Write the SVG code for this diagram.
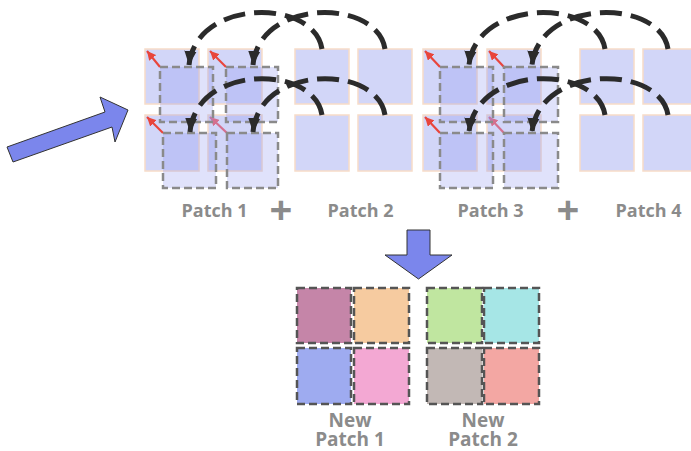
<svg xmlns="http://www.w3.org/2000/svg" width="691" height="451" viewBox="0 0 691 451">
<defs>
<style>
.sq{fill:#d2d6f8;stroke:#f7dcc8;stroke-width:1.5}
.ds{fill:rgba(136,143,240,0.26);stroke:#8a8a8a;stroke-width:2.5;stroke-dasharray:8 4}
.red{stroke:#e8453c;stroke-width:2.2;fill:none;marker-end:url(#rh)}
.pink{stroke:#d4708f;stroke-width:2.2;fill:none;marker-end:url(#ph)}
.arc{stroke:#2b2b2b;stroke-width:5;fill:none;stroke-dasharray:22 9;marker-end:url(#bh)}
.ns{stroke:#555;stroke-width:2.5;stroke-dasharray:8 4}
.lbl{font-family:"Open Sans","Noto Sans",sans-serif;font-weight:700;fill:#8b8b8b;font-size:18px;text-anchor:middle}
.lbl2{font-family:"Open Sans","Noto Sans",sans-serif;font-weight:700;fill:#8b8b8b;font-size:19px;text-anchor:middle}
.plus{font-family:"Open Sans","Noto Sans",sans-serif;font-weight:700;fill:#8b8b8b;font-size:40px;text-anchor:middle}
.big{fill:#7b86ec;stroke:#333;stroke-width:1}
</style>
<marker id="bh" markerUnits="userSpaceOnUse" markerWidth="14" markerHeight="16" viewBox="0 0 16 14" refX="16" refY="7" orient="auto">
<path d="M0,0 L16,7 L0,14 Z" fill="#2b2b2b"/>
</marker>
<marker id="rh" markerUnits="userSpaceOnUse" markerWidth="9" markerHeight="9" viewBox="0 0 10 10" refX="10" refY="5" orient="auto">
<path d="M0,0 L10,5 L0,10 Z" fill="#e8453c"/>
</marker>
<marker id="ph" markerUnits="userSpaceOnUse" markerWidth="9" markerHeight="9" viewBox="0 0 10 10" refX="10" refY="5" orient="auto">
<path d="M0,0 L10,5 L0,10 Z" fill="#d4708f"/>
</marker>
</defs>
<rect width="691" height="451" fill="#ffffff"/>

<polygon id="bigArrow" class="big" points="7,147 105,112 100,97 128,110 115,142 112,127 13,162"/>

<g id="patch1">
<rect class="sq" x="145" y="49" width="54" height="55"/>
<rect class="sq" x="208" y="49" width="54" height="55"/>
<rect class="sq" x="145" y="115" width="54" height="56"/>
<rect class="sq" x="208" y="115" width="54" height="56"/>
</g>
<g id="patch2">
<rect class="sq" x="295" y="49" width="54" height="55"/>
<rect class="sq" x="358" y="49" width="54" height="55"/>
<rect class="sq" x="295" y="115" width="54" height="56"/>
<rect class="sq" x="358" y="115" width="54" height="56"/>
</g>
<g id="patch3">
<rect class="sq" x="423" y="49" width="54" height="55"/>
<rect class="sq" x="487" y="49" width="54" height="55"/>
<rect class="sq" x="423" y="115" width="54" height="56"/>
<rect class="sq" x="487" y="115" width="54" height="56"/>
</g>
<g id="patch4">
<rect class="sq" x="580" y="49" width="54" height="55"/>
<rect class="sq" x="643" y="49" width="54" height="55"/>
<rect class="sq" x="580" y="115" width="54" height="56"/>
<rect class="sq" x="643" y="115" width="54" height="56"/>
</g>

<g id="shifts">
<path class="red" d="M160,67 L147,51"/>
<path class="red" d="M226,67 L210,51"/>
<path class="red" d="M163,133 L147,117"/>
<path class="pink" d="M227,133 L210,117"/>
<path class="red" d="M440,67 L425,51"/>
<path class="red" d="M504,67 L489,51"/>
<path class="red" d="M440,133 L425,117"/>
<path class="pink" d="M504,133 L489,117"/>
</g>

<g id="shifted1">
<rect class="ds" x="160" y="67" width="53" height="55"/>
<rect class="ds" x="226" y="67" width="52" height="55"/>
<rect class="ds" x="163" y="133" width="53" height="55"/>
<rect class="ds" x="227" y="133" width="51" height="55"/>
</g>
<g id="shifted3">
<rect class="ds" x="440" y="67" width="53" height="55"/>
<rect class="ds" x="504" y="67" width="54" height="55"/>
<rect class="ds" x="440" y="133" width="53" height="55"/>
<rect class="ds" x="504" y="133" width="54" height="55"/>
</g>

<g id="connectors">
<path class="arc" d="M322,49 C314,-2 196,-2 189,65"/>
<path class="arc" d="M385,49 C377,-2 259,-2 253,65"/>
<path class="arc" d="M322,115 C314,64 196,64 190,132"/>
<path class="arc" d="M385,115 C377,64 259,64 253,132"/>
<path class="arc" d="M605,49 C597,-2 476,-2 469,65"/>
<path class="arc" d="M668,49 C660,-2 539,-2 532,65"/>
<path class="arc" d="M605,115 C597,64 476,64 469,132"/>
<path class="arc" d="M668,115 C660,64 539,64 532,132"/>
</g>

<g id="labels">
<text class="lbl" x="214.5" y="217">Patch 1</text>
<text class="plus" x="281" y="224">+</text>
<text class="lbl" x="360.5" y="217">Patch 2</text>
<text class="lbl" x="490.5" y="217">Patch 3</text>
<text class="plus" x="568" y="224">+</text>
<text class="lbl" x="648.5" y="217">Patch 4</text>
</g>

<polygon id="downArrow" class="big" points="407,230 430,230 430,255 452,255 418.5,279 385,255 407,255"/>

<g id="newPatch1">
<rect class="ns" x="297" y="288" width="54" height="55" fill="#c585a8"/>
<rect class="ns" x="354" y="288" width="55" height="55" fill="#f6cba0"/>
<rect class="ns" x="297" y="348" width="54" height="56" fill="#9eabf0"/>
<rect class="ns" x="354" y="348" width="55" height="56" fill="#f3a8d3"/>
<text class="lbl2" x="350" y="427">New<tspan x="350" y="446">Patch 1</tspan></text>
</g>
<g id="newPatch2">
<rect class="ns" x="427" y="288" width="55" height="55" fill="#c0e6a0"/>
<rect class="ns" x="484" y="288" width="55" height="55" fill="#a6e6e6"/>
<rect class="ns" x="427" y="348" width="55" height="56" fill="#c2b8b5"/>
<rect class="ns" x="484" y="348" width="55" height="56" fill="#f3a7a3"/>
<text class="lbl2" x="483" y="427">New<tspan x="483" y="446">Patch 2</tspan></text>
</g>
</svg>
